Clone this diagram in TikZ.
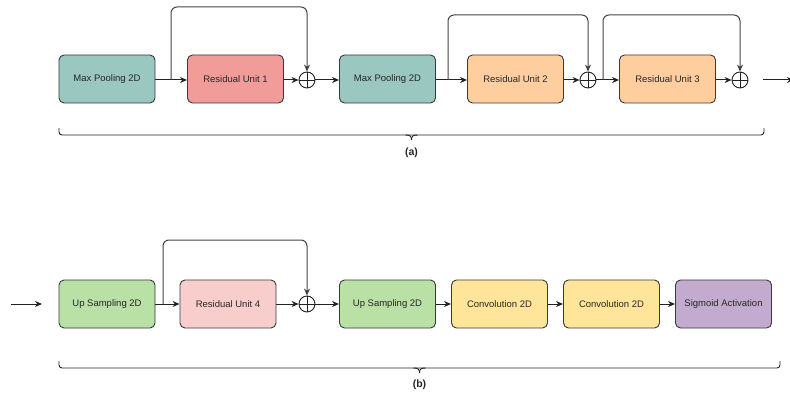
\documentclass[tikz,border=0pt]{standalone}
\usepackage{fontspec}
\setmainfont{Liberation Sans}
\usetikzlibrary{arrows.meta}
\definecolor{cteal}{HTML}{9AC7BF}
\definecolor{cred}{HTML}{F19C99}
\definecolor{corange}{HTML}{FFCE9F}
\definecolor{cgreen}{HTML}{B9E0A5}
\definecolor{cpink}{HTML}{F8CECC}
\definecolor{cyellow}{HTML}{FFE599}
\definecolor{cpurple}{HTML}{C3ABD0}
\definecolor{cstroke}{HTML}{36393D}
\definecolor{cline}{HTML}{222222}
\tikzset{
  blk/.style={draw=cstroke, line width=0.9pt, rounded corners=5pt, minimum width=96pt, minimum height=48pt, inner sep=0pt, font=\fontsize{9.5}{11}\selectfont, text=black!85},
  sumc/.style={draw=cline, circle, line width=0.9pt, minimum size=16pt, inner sep=0pt, path picture={
      \draw[cline, line width=0.8pt] (path picture bounding box.north) -- (path picture bounding box.south)
        (path picture bounding box.west) -- (path picture bounding box.east);}},
  conn/.style={draw=cline, line width=1pt, -{Stealth[length=7pt,width=6pt]}},
  skip/.style={draw=cline!85, line width=1pt, rounded corners=6pt, -{Stealth[length=7pt,width=6pt]}},
  brace/.style={draw=cline, line width=0.9pt, rounded corners=3pt},
  lbl/.style={font=\bfseries\fontsize{10.5}{12}\selectfont, text=black!85}
}
\begin{document}
\begin{tikzpicture}[x=1pt,y=-1pt]
\useasboundingbox (0,0) rectangle (790,396);
% ---------- row (a) ----------
\node[blk, fill=cteal]   (mp1) at (107,79) {Max Pooling 2D};
\node[blk, fill=cred]    (ru1) at (235.5,79) {Residual Unit 1};
\node[sumc]              (s1)  at (307,80) {};
\node[blk, fill=cteal]   (mp2) at (387.5,79) {Max Pooling 2D};
\node[blk, fill=corange] (ru2) at (515.5,79) {Residual Unit 2};
\node[sumc]              (s2)  at (588,80) {};
\node[blk, fill=corange] (ru3) at (667.5,79) {Residual Unit 3};
\node[sumc]              (s3)  at (740,80) {};
\coordinate (outa) at (763,80);
\coordinate (outb) at (794,80);
\draw[conn] (mp1.east |- s1) -- (ru1.west |- s1);
\draw[conn] (ru1.east |- s1) -- (s1.west);
\draw[conn] (s1.east) -- (mp2.west |- s1);
\draw[conn] (mp2.east |- s1) -- (ru2.west |- s1);
\draw[conn] (ru2.east |- s2) -- (s2.west);
\draw[conn] (s2.east) -- (ru3.west |- s2);
\draw[conn] (ru3.east |- s3) -- (s3.west);
\draw[conn] (outa) -- (outb);
\draw[skip] (171,80) -- (171,7) -- (307,7) -- (s1.north);
\draw[skip] (448,80) -- (448,15) -- (588,15) -- (s2.north);
\draw[skip] (603,80) -- (603,15) -- (740,15) -- (s3.north);
% brace (a)
\draw[brace] (59,128) -- (59,135) -- (764,135) -- (764,128);
\draw[draw=cline, line width=0.9pt] (405.5,135) .. controls (410,135) and (411.5,136) .. (411.5,140);
\draw[draw=cline, line width=0.9pt] (417.5,135) .. controls (413,135) and (411.5,136) .. (411.5,140);
\node[lbl] (la) at (411.5,153) {(a)};
% ---------- row (b) ----------
\coordinate (inb0) at (11,304);
\coordinate (inb1) at (42,304);
\node[blk, fill=cgreen]  (us1) at (107,304) {Up Sampling 2D};
\node[blk, fill=cpink]   (ru4) at (228,304) {Residual Unit 4};
\node[sumc]              (s4)  at (307,304) {};
\node[blk, fill=cgreen]  (us2) at (387.5,304) {Up Sampling 2D};
\node[blk, fill=cyellow] (cv1) at (499.5,304) {Convolution 2D};
\node[blk, fill=cyellow] (cv2) at (611.5,304) {Convolution 2D};
\node[blk, fill=cpurple] (sig) at (723.5,304) {Sigmoid Activation};
\draw[conn] (inb0) -- (inb1);
\draw[conn] (us1.east) -- (ru4.west);
\draw[conn] (ru4.east) -- (s4.west);
\draw[conn] (s4.east) -- (us2.west);
\draw[conn] (us2.east) -- (cv1.west);
\draw[conn] (cv1.east) -- (cv2.west);
\draw[conn] (cv2.east) -- (sig.west);
\draw[skip] (163,304) -- (163,240) -- (307,240) -- (s4.north);
% brace (b)
\draw[brace] (59,361) -- (59,368) -- (780,368) -- (780,361);
\draw[draw=cline, line width=0.9pt] (413.5,368) .. controls (418,368) and (419.5,369) .. (419.5,373);
\draw[draw=cline, line width=0.9pt] (425.5,368) .. controls (421,368) and (419.5,369) .. (419.5,373);
\node[lbl] (lb) at (419.5,385) {(b)};
\end{tikzpicture}
\end{document}
